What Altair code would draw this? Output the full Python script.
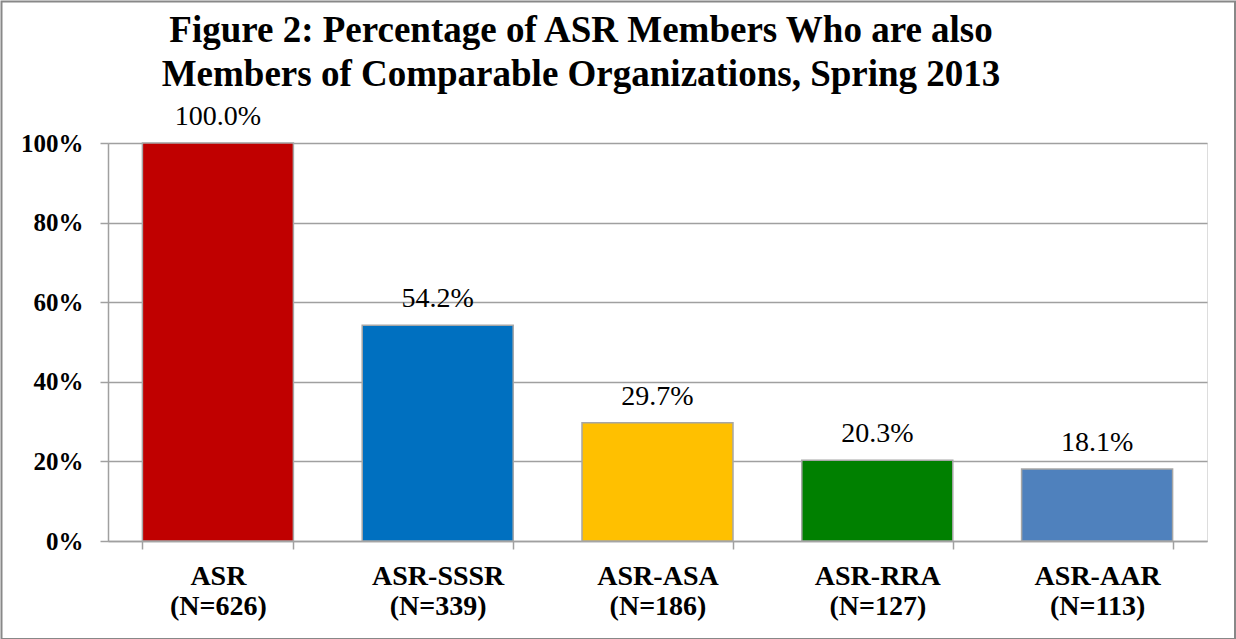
import altair as alt
import pandas as pd

categories = ["ASR|(N=626)", "ASR-SSSR|(N=339)", "ASR-ASA|(N=186)", "ASR-RRA|(N=127)", "ASR-AAR|(N=113)"]
values = [100.0, 54.2, 29.7, 20.3, 18.1]
colors = ["#C00000", "#0070C0", "#FFC000", "#008000", "#4F81BD"]
title_lines = ["Figure 2: Percentage of ASR Members Who are also",
               "Members of Comparable Organizations, Spring 2013"]

df = pd.DataFrame({"cat": categories, "value": values})
FONT = "Liberation Serif"
W, H = 1099, 398

xenc = alt.X(
    "cat:N",
    sort=categories,
    scale=alt.Scale(paddingInner=0.313, paddingOuter=0.1565),
    axis=alt.Axis(
        title=None,
        labelExpr="split(datum.label, '|')",
        labelAngle=0,
        labelFont=FONT,
        labelFontSize=28,
        labelFontWeight="bold",
        labelColor="black",
        labelLineHeight=30,
        labelPadding=13,
        labelBaseline="top",
        tickBand="extent",
        tickSize=8,
        tickColor="#A0A0A0",
        tickWidth=1.5,
        domainColor="#A0A0A0",
        domainWidth=1.5,
        grid=False,
    ),
)

yenc = alt.Y(
    "value:Q",
    scale=alt.Scale(domain=[0, 100], nice=False),
    axis=alt.Axis(
        title=None,
        values=[0, 20, 40, 60, 80, 100],
        labelExpr="datum.value + '%'",
        labelFont=FONT,
        labelFontSize=25,
        labelFontWeight="bold",
        labelColor="black",
        labelPadding=17,
        tickSize=8,
        tickColor="#A0A0A0",
        tickWidth=1.5,
        domainColor="#A0A0A0",
        domainWidth=1.5,
        grid=True,
        gridColor="#A0A0A0",
        gridWidth=1.5,
    ),
)

bars = alt.Chart(df).mark_bar(stroke="#A6A6A6", strokeWidth=1.5).encode(
    x=xenc,
    y=yenc,
    color=alt.Color("cat:N", scale=alt.Scale(domain=categories, range=colors), legend=None),
)

labels = alt.Chart(df).transform_calculate(
    txt="format(datum.value, '.1f') + '%'"
).mark_text(
    font=FONT, fontSize=28, color="black", baseline="alphabetic", dy=-18
).encode(
    x=alt.X("cat:N", sort=categories),
    y="value:Q",
    text="txt:N",
)

border = alt.Chart(pd.DataFrame({"a": [0]})).mark_rect(
    fill=None, fillOpacity=0, stroke="#888888", strokeWidth=2
).encode(
    x=alt.value(-106.5), x2=alt.value(1127), y=alt.value(-141.5), y2=alt.value(496)
)

title = alt.Chart(pd.DataFrame({"a": [0]})).mark_text(
    text=title_lines, font=FONT, fontSize=37, fontWeight="bold", color="black",
    align="center", baseline="alphabetic", lineHeight=44,
).encode(x=alt.value(473), y=alt.value(-101))

chart = alt.layer(border, bars, labels, title).properties(
    width=W,
    height=H,
    autosize=alt.AutoSizeParams(type="none"),
    padding={"left": 108, "top": 143, "right": 29, "bottom": 98},
).configure_view(stroke=None).configure(background="white")

chart.save("out.html", embed_options={"renderer": "svg", "actions": False})
